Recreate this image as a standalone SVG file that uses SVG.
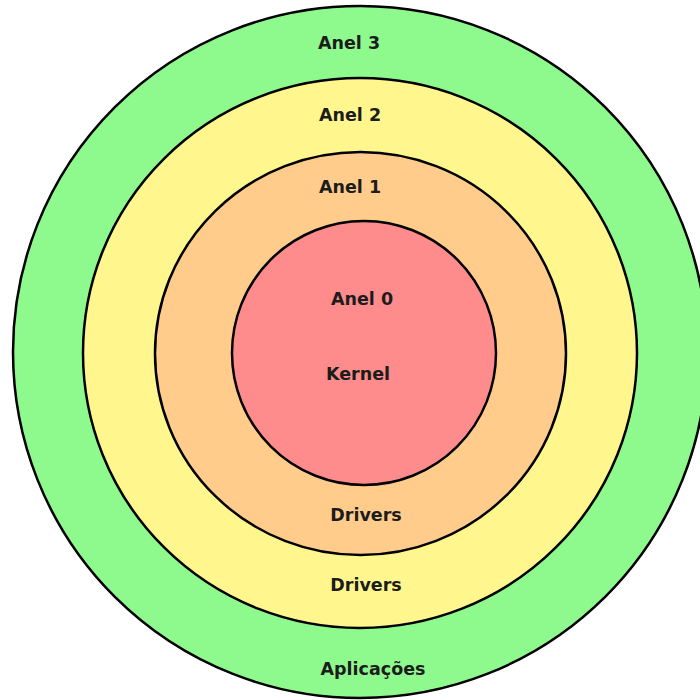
<svg xmlns="http://www.w3.org/2000/svg" width="700" height="700" viewBox="0 0 700 700">
  <style>
    .ring { stroke: #000; stroke-width: 2.5; }
    .r3 { fill: #8efa8e; }
    .r2 { fill: #fff78e; }
    .r1 { fill: #ffcc8c; }
    .r0 { fill: #ff8c8c; }
    .lbl { font-family: "DejaVu Sans", Verdana, sans-serif; font-weight: bold; font-size: 17.5px; fill: #1c1c1c; text-anchor: middle; }
  </style>
  <rect width="700" height="700" fill="#fff"/>
  <g id="anel3">
    <ellipse class="ring r3" cx="360" cy="352" rx="347" ry="346"/>
    <text class="lbl" x="349" y="49">Anel 3</text>
    <text class="lbl" x="373" y="675">Aplicações</text>
  </g>
  <g id="anel2">
    <ellipse class="ring r2" cx="360" cy="353" rx="277" ry="275"/>
    <text class="lbl" x="350" y="121">Anel 2</text>
    <text class="lbl" x="366" y="591">Drivers</text>
  </g>
  <g id="anel1">
    <ellipse class="ring r1" cx="360.5" cy="353.5" rx="205.5" ry="201.5"/>
    <text class="lbl" x="350" y="193">Anel 1</text>
    <text class="lbl" x="366" y="521">Drivers</text>
  </g>
  <g id="anel0">
    <ellipse class="ring r0" cx="364" cy="353" rx="132" ry="132"/>
    <text class="lbl" x="362" y="305">Anel 0</text>
    <text class="lbl" x="358" y="380">Kernel</text>
  </g>
  <g id="connectors"/>
</svg>
